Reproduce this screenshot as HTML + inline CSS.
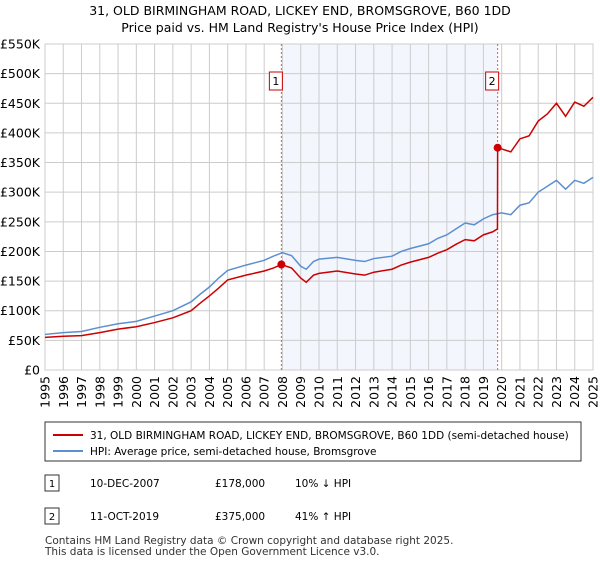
<!DOCTYPE html>
<html><head><meta charset="utf-8"><style>
body{margin:0;background:#fff;font-family:"Liberation Sans","DejaVu Sans",sans-serif;}
svg text{font-family:"DejaVu Sans","Liberation Sans",sans-serif;}
</style></head><body>
<svg width="600" height="560" xmlns="http://www.w3.org/2000/svg">
<text x="300" y="15" text-anchor="middle" font-size="12.5">31, OLD BIRMINGHAM ROAD, LICKEY END, BROMSGROVE, B60 1DD</text>
<text x="300" y="32" text-anchor="middle" font-size="12.5">Price paid vs. HM Land Registry's House Price Index (HPI)</text>
<g id="plot"></g>
<g>
<rect x="45" y="422" width="536" height="39" fill="#fff" stroke="#333" stroke-width="1"/>
<line x1="53" y1="435" x2="83" y2="435" stroke="#cc0000" stroke-width="2"/>
<text x="90" y="439" font-size="10.5">31, OLD BIRMINGHAM ROAD, LICKEY END, BROMSGROVE, B60 1DD (semi-detached house)</text>
<line x1="53" y1="451" x2="83" y2="451" stroke="#5b8fd0" stroke-width="2"/>
<text x="90" y="455" font-size="10.5">HPI: Average price, semi-detached house, Bromsgrove</text>
</g>
<g>
<rect x="45" y="475" width="14" height="16" fill="#fff" stroke="#333"/><text x="52" y="487" text-anchor="middle" font-size="10">1</text>
<text x="90" y="487" font-size="10.5">10-DEC-2007</text><text x="215" y="487" font-size="10.5">£178,000</text><text x="295" y="487" font-size="10.5">10% ↓ HPI</text>
<rect x="45" y="508" width="14" height="16" fill="#fff" stroke="#333"/><text x="52" y="520" text-anchor="middle" font-size="10">2</text>
<text x="90" y="520" font-size="10.5">11-OCT-2019</text><text x="215" y="520" font-size="10.5">£375,000</text><text x="295" y="520" font-size="10.5">41% ↑ HPI</text>
</g>
<text x="45" y="544" font-size="10.5" fill="#333">Contains HM Land Registry data © Crown copyright and database right 2025.</text>
<text x="45" y="555" font-size="10.5" fill="#333">This data is licensed under the Open Government Licence v3.0.</text>
</svg>
<script>
const yTicks=[0,50,100,150,200,250,300,350,400,450,500,550];
const yTickLabels=["£0","£50K","£100K","£150K","£200K","£250K","£300K","£350K","£400K","£450K","£500K","£550K"];
const xYears=[1995,1996,1997,1998,1999,2000,2001,2002,2003,2004,2005,2006,2007,2008,2009,2010,2011,2012,2013,2014,2015,2016,2017,2018,2019,2020,2021,2022,2023,2024,2025];
const hpiX=[1995,1996,1997,1998,1999,2000,2001,2002,2003,2003.5,2004,2004.5,2005,2006,2007,2007.5,2008,2008.5,2009,2009.3,2009.7,2010,2011,2012,2012.5,2013,2014,2014.5,2015,2016,2016.5,2017,2017.5,2018,2018.5,2019,2019.5,2020,2020.5,2021,2021.5,2022,2022.5,2023,2023.5,2024,2024.5,2025];
const hpiY=[60,63,65,72,78,82,91,100,115,128,140,155,168,177,185,192,198,193,175,170,183,187,190,185,183,188,192,200,205,213,222,228,238,248,245,255,262,265,262,278,282,300,310,320,305,320,315,325];
const priceX=[1995,1996,1997,1998,1999,2000,2001,2002,2003,2003.5,2004,2004.5,2005,2006,2007,2007.5,2007.94,2008.5,2009,2009.3,2009.7,2010,2011,2012,2012.5,2013,2014,2014.5,2015,2016,2016.5,2017,2017.5,2018,2018.5,2019,2019.5,2019.77,2019.78,2020,2020.5,2021,2021.5,2022,2022.5,2023,2023.5,2024,2024.5,2025];
const priceY=[55,57,58,63,69,73,80,88,100,113,125,138,152,160,167,172,178,172,155,148,160,163,167,162,160,165,170,177,182,190,197,203,212,220,218,228,233,238,375,373,368,390,395,420,432,450,428,452,445,460];
const saleX=[2007.94,2019.78];
const saleY=[178,375];
const saleLabels=["1","2"];

const X0=45,X1=593,Y0=370,Y1=44;
const xs=v=>X0+(v-1995)/30*(X1-X0);
const ys=v=>Y0-v/550*(Y0-Y1);
const NS="http://www.w3.org/2000/svg";
const g=document.getElementById('plot');
function mk(t,a){const e=document.createElementNS(NS,t);for(const k in a)e.setAttribute(k,a[k]);g.appendChild(e);return e;}
const shade=mk('rect',{x:xs(saleX[0]),y:Y1,width:xs(saleX[1])-xs(saleX[0]),height:Y0-Y1,fill:'#f3f6fd'});


yTicks.forEach((t,i)=>{
 const l=mk('line',{x1:X0,x2:X1,y1:ys(t),y2:ys(t),stroke:'#cccccc','stroke-width':1});
 
 
 const tx=mk('text',{x:40,y:ys(t)+4.5,'text-anchor':'end','font-size':'12.5'});
 tx.textContent=yTickLabels[i];
 
 
});
xYears.forEach(yr=>{
 const l=mk('line',{x1:xs(yr),x2:xs(yr),y1:Y1,y2:Y0,stroke:'#cccccc','stroke-width':1});
 
 
 const tx=mk('text',{x:0,y:0,'text-anchor':'end','font-size':'12.5',transform:`translate(${xs(yr)+4.5},${Y0+6}) rotate(-90)`});
 tx.textContent=yr;
 
 
});
const fr=mk('rect',{x:X0,y:Y1,width:X1-X0,height:Y0-Y1,fill:'none',stroke:'#cccccc'});


saleX.forEach((sx,i)=>{
 const l=mk('line',{x1:xs(sx),x2:xs(sx),y1:Y1,y2:Y0,stroke:'#ee5555','stroke-width':1,'stroke-dasharray':'2,2'});
 
 
});
const hp=mk('polyline',{points:hpiX.map((x,i)=>xs(x)+','+ys(hpiY[i])).join(' '),fill:'none',stroke:'#5b8fd0','stroke-width':1.5});


const pp=mk('polyline',{points:priceX.map((x,i)=>xs(x)+','+ys(priceY[i])).join(' '),fill:'none',stroke:'#cc0000','stroke-width':1.5});


saleX.forEach((sx,i)=>{
 const c=mk('circle',{cx:xs(sx),cy:ys(saleY[i]),r:4,fill:'#cc0000'});
 
 
 const b=mk('rect',{x:xs(sx)-12,y:72,width:13,height:18,fill:'#fff',stroke:'#cc0000'});
 
 
 const t=mk('text',{x:xs(sx)-5.5,y:85,'text-anchor':'middle','font-size':'11'});
 t.textContent=saleLabels[i];
 
 
});
</script>
</body></html>
